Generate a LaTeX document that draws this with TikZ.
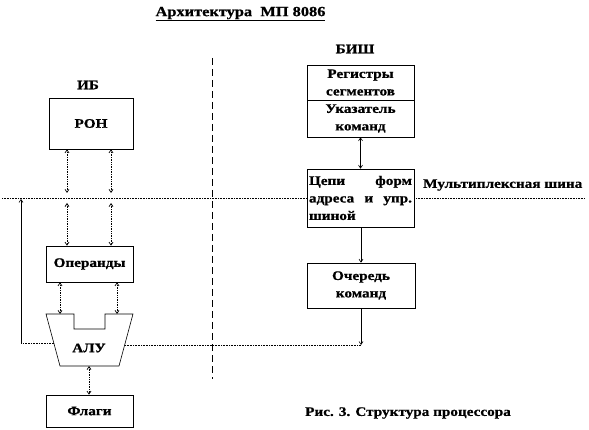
\documentclass[tikz,border=0pt]{standalone}
\usepackage{fontspec}
\setmainfont{Liberation Serif}[BoldFont={* Bold}, BoldFeatures={FakeStretch=1.17, FakeBold=0.8}]
\usetikzlibrary{arrows.meta}
\tikzset{
  lbl/.style={font=\bfseries\fontsize{13}{17}\selectfont, inner sep=0pt},
  blk/.style={draw=black, line width=0.6pt, fill=white, inner sep=0pt, align=center,
              font=\bfseries\fontsize{13}{17.5}\selectfont},
  dar/.style={densely dotted, line width=0.7pt, {Straight Barb[length=3pt,width=4pt]}-{Straight Barb[length=3pt,width=4pt]}},
  sar/.style={line width=0.6pt, {Straight Barb[length=3pt,width=4pt]}-{Straight Barb[length=3pt,width=4pt]}},
  arr/.style={line width=0.6pt, -{Straight Barb[length=3pt,width=4pt]}},
  bus/.style={densely dotted, line width=0.6pt},
}
\begin{document}
\begin{tikzpicture}[x=1pt,y=-1pt]
\useasboundingbox (0,0) rectangle (589,430);
% title
\node[lbl, font=\bfseries\fontsize{14}{18}\selectfont] (title) at (240.5,14) {\underline{Архитектура\ \ МП 8086}};
\node[lbl] (ib) at (88,85) {ИБ};
\node[lbl] (bishlbl) at (355,49) {БИШ};
% divider
\coordinate (dtop) at (212,58);
\coordinate (dbot) at (212,379);
\draw[dash pattern=on 7pt off 4pt, line width=0.7pt] (dtop) -- (dbot);
% boxes
\node[blk, minimum width=84pt, minimum height=51pt] (ron) at (91,123.5) {РОН};
\node[blk, minimum width=87pt, minimum height=36pt] (oper) at (89.5,264) {Операнды};
\node[blk, minimum width=87pt, minimum height=32pt] (flags) at (89.5,411) {Флаги};
\node[blk, minimum width=107pt, minimum height=35pt] (seg) at (360.5,82.5) {Регистры\\сегментов};
\node[blk, minimum width=107pt, minimum height=37pt] (ptr) at (360.5,118.5) {Указатель\\команд};
\node[blk, minimum width=107pt, minimum height=58pt, text width=103pt, align=left] (chain) at (360.5,198)
  {\makebox[103pt][s]{Цепи\hfill форм}\\\makebox[103pt][s]{адреса\hfill и\hfill упр.}\\шиной};
\node[blk, minimum width=108pt, minimum height=45pt] (queue) at (361,285.5) {Очередь\\команд};
% ALU
\coordinate (a1) at (46,314);
\coordinate (a2) at (74,314);
\coordinate (a3) at (74,329);
\coordinate (a4) at (105,329);
\coordinate (a5) at (105,314);
\coordinate (a6) at (133,314);
\coordinate (a7) at (119,366);
\coordinate (a8) at (60,366);
\draw[line width=0.6pt] (a1) -- (a2) -- (a3) -- (a4) -- (a5) -- (a6) -- (a7) -- (a8) -- cycle;
\node[lbl] (alu) at (89,348) {АЛУ};
% bus
\coordinate (busL) at (2,198);
\coordinate (busR) at (584,198);
\draw[bus] (busL) -- (chain.west);
\draw[bus] (chain.east) -- (busR);
\node[lbl, anchor=west] (mux) at (423,185) {Мультиплексная шина};
% RON <-> bus, bus <-> operands
\coordinate (r1) at (67,193); \coordinate (r2) at (111,193);
\coordinate (o1) at (67,203); \coordinate (o2) at (111,203);
\draw[dar] (ron.south -| r1) -- (r1);
\draw[dar] (ron.south -| r2) -- (r2);
\draw[dar] (o1) -- (oper.north -| o1);
\draw[dar] (o2) -- (oper.north -| o2);
% operands <-> ALU
\coordinate (u1) at (60,314); \coordinate (u2) at (117,314);
\draw[dar] (oper.south -| u1) -- (u1);
\draw[dar] (oper.south -| u2) -- (u2);
% ALU <-> flags
\coordinate (ab) at (89,366);
\draw[dar] (ab) -- (flags.north -| ab);
% feedback
\coordinate (fbA) at (54,343);
\coordinate (fbC) at (21,343);
\coordinate (fbT) at (21,199);
\draw[bus] (fbA) -- (fbC);
\draw[arr] (fbC) -- (fbT);
% queue -> ALU
\coordinate (qA) at (125,345);
\coordinate (qB) at (361,345);
\draw[bus] (qA) -- (qB);
\draw[arr] (queue.south) -- (qB);
% BIU arrows
\draw[sar] (ptr.south -| chain.north) -- (chain.north);
\draw[arr] (chain.south -| queue.north) -- (queue.north);
% caption
\node[lbl, anchor=west] (cap) at (305,413) {Рис. 3. Структура процессора};
\end{tikzpicture}
\end{document}
